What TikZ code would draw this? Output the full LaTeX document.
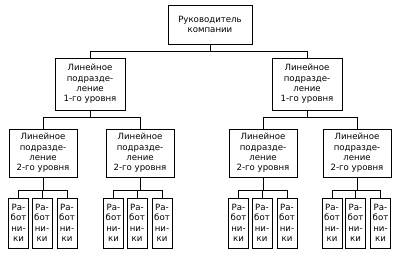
\documentclass[tikz,border=0pt]{standalone}
\usepackage{fontspec}
\setmainfont{DejaVu Sans}
\begin{document}
\begin{tikzpicture}[x=1pt,y=-1pt,
  box/.style={draw,line width=1pt,inner sep=0pt,align=center,font=\fontsize{8.6}{10.3}\selectfont},
  topbox/.style={box,minimum width=84pt,minimum height=39pt},
  lvlone/.style={box,minimum width=70pt,minimum height=52pt},
  lvltwo/.style={box,minimum width=68pt,minimum height=48pt},
  worker/.style={box,minimum width=20pt,minimum height=50pt},
  conn/.style={line width=1pt}]
\useasboundingbox (0,0) rectangle (405,260);
\node[topbox] (top) at (210,24.5) {Руководитель\\компании};
\node[lvlone] (a) at (90,84) {Линейное\\подразде-\\ление\\1-го уровня};
\node[lvlone] (b) at (307,84) {Линейное\\подразде-\\ление\\1-го уровня};
\node[lvltwo] (a1) at (43,153) {Линейное\\подразде-\\ление\\2-го уровня};
\node[lvltwo] (a2) at (140,153) {Линейное\\подразде-\\ление\\2-го уровня};
\node[lvltwo] (b1) at (263,153) {Линейное\\подразде-\\ление\\2-го уровня};
\node[lvltwo] (b2) at (357,153) {Линейное\\подразде-\\ление\\2-го уровня};
\foreach \p/\x in {a1/18.5,a2/113.5,b1/238.5,b2/332}{
  \foreach \i/\d in {1/0,2/23.5,3/48.5}{
    \node[worker] (\p w\i) at (\x+\d,223) {Ра-\\бот\\ни-\\ки};
  }
}
\draw[conn] (top.south) -- ++(0,7) -| (a.north);
\draw[conn] (top.south) -- ++(0,7) -| (b.north);
\foreach \p in {a,b}{
  \draw[conn] (\p.south) -- ++(0,7) -| (\p1.north);
  \draw[conn] (\p.south) -- ++(0,7) -| (\p2.north);
}
\foreach \p in {a1,a2,b1,b2}{
  \foreach \i in {1,2,3}{
    \draw[conn] (\p.south) -- ++(0,13) -| (\p w\i.north);
  }
}
\end{tikzpicture}
\end{document}
